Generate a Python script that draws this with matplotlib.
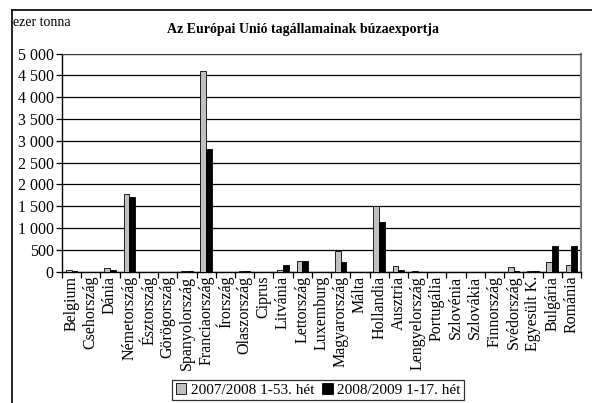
import matplotlib.pyplot as plt
import numpy as np
from matplotlib.lines import Line2D
from matplotlib.ticker import FuncFormatter, MultipleLocator

plt.rcParams['font.family'] = ['Liberation Serif', 'DejaVu Serif']

countries = ["Belgium", "Csehország", "Dánia", "Németország", "Észtország",
             "Görögország", "Spanyolország", "Franciaország", "Írország",
             "Olaszország", "Ciprus", "Litvánia", "Lettország", "Luxemburg",
             "Magyarország", "Málta", "Hollandia", "Ausztria", "Lengyelország",
             "Portugália", "Szlovénia", "Szlovákia", "Finnország", "Svédország",
             "Egyesült K.", "Bulgária", "Románia"]

exp_0708 = [45, 0, 90, 1785, 0, 0, 15, 4590, 0, 15, 0, 50, 240, 0,
            465, 0, 1495, 130, 5, 0, 0, 0, 0, 115, 5, 225, 150]
exp_0809 = [10, 0, 45, 1720, 0, 0, 5, 2820, 0, 5, 0, 150, 240, 0,
            225, 0, 1150, 45, 0, 0, 0, 0, 0, 20, 15, 595, 595]
labels = ["2007/2008 1-53. hét", "2008/2009 1-17. hét"]

W, H = 592, 403
fig = plt.figure(figsize=(W / 100, H / 100), dpi=100)

# outer frame (runs off the bottom/right of the image)
fig.add_artist(Line2D([11.5 / W, 11.5 / W], [0, 1 - 9.5 / H], color='black', lw=1.2,
                      transform=fig.transFigure))
fig.add_artist(Line2D([11.5 / W, 1], [1 - 9.5 / H, 1 - 9.5 / H], color='black', lw=1.2,
                      transform=fig.transFigure))

left, right, top, bottom = 62, 581, 53.5, 271.7
ax = fig.add_axes([left / W, 1 - bottom / H, (right - left) / W, (bottom - top) / H])

x = np.arange(len(countries))
w = 0.3
ax.bar(x - w / 2, exp_0708, w, color='#c0c0c0', edgecolor='black', linewidth=0.6,
       label=labels[0], zorder=3)
ax.bar(x + w / 2, exp_0809, w, color='black', edgecolor='black', linewidth=0.6,
       label=labels[1], zorder=3)

ax.set_xlim(-0.5, len(countries) - 0.5)
ax.set_ylim(0, 5000)
ax.yaxis.set_major_locator(MultipleLocator(500))
ax.yaxis.set_major_formatter(FuncFormatter(lambda v, p: f"{int(v):,}".replace(",", " ")))
ax.grid(axis='y', color='black', lw=0.9, zorder=0)

ax.set_xticks(x)
ax.set_xticklabels(countries, rotation=90, fontsize=11.5)
ax.set_xticks(np.arange(-0.5, len(countries)), minor=True)
ax.tick_params(axis='x', which='major', length=0, pad=3)
ax.tick_params(axis='x', which='minor', length=4, direction='out', width=0.9)
ax.tick_params(axis='y', labelsize=11.5, length=4, width=0.9, direction='out', pad=2)

ax.spines['left'].set_linewidth(1.0)
ax.spines['bottom'].set_linewidth(1.0)
ax.spines['top'].set_color('#404040')
ax.spines['right'].set_color('#808080')
ax.spines['right'].set_linewidth(1.5)

fig.text(13 / W, 1 - 22 / H, "ezer tonna", fontsize=10, ha='left', va='center')
fig.text(303 / W, 1 - 30 / H, "Az Európai Unió tagállamainak búzaexportja",
         fontsize=10, fontweight='bold', ha='center', va='center')

leg = fig.legend(loc='center', bbox_to_anchor=(318 / W, 1 - 390 / H), ncol=2,
                 fontsize=11, frameon=True, fancybox=False, edgecolor='black',
                 handlelength=0.7, handleheight=0.7, handletextpad=0.3,
                 columnspacing=0.5, borderpad=0.2, borderaxespad=0)
leg.get_frame().set_linewidth(0.9)

fig.savefig("out.png", dpi=100)
